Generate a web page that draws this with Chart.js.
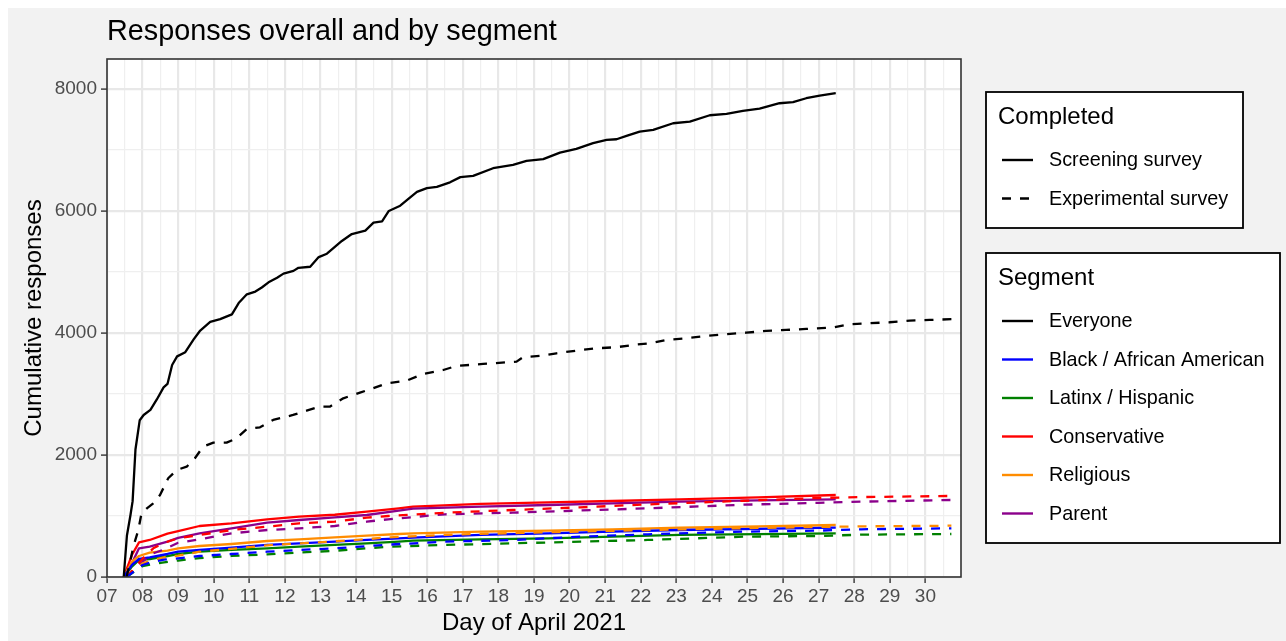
<!DOCTYPE html>
<html>
<head>
<meta charset="utf-8">
<script src="https://cdn.jsdelivr.net/npm/chart.js@4"></script>
<style>
  html, body { margin: 0; padding: 0; background: #fff; }
  canvas { display: block; }
</style>
</head>
<body>
<canvas id="responsesChart" width="1286" height="641"></canvas>
<script>
// axis ticks
const dayTicks = [7, 8, 9, 10, 11, 12, 13, 14, 15, 16, 17, 18, 19, 20, 21, 22, 23, 24, 25, 26, 27, 28, 29, 30];
const countTicks = [0, 2000, 4000, 6000, 8000];

// everyone, screening survey (solid)
const everyoneScreenDays = [7.47, 7.56, 7.66, 7.72, 7.80, 7.92, 8.03, 8.22, 8.40, 8.59, 8.70, 8.83, 8.97, 9.20, 9.44, 9.62, 9.90,
  10.18, 10.51, 10.70, 10.93, 11.17, 11.35, 11.54, 11.78, 11.96, 12.24, 12.38, 12.71, 12.95, 13.18, 13.37, 13.60, 13.88,
  14.07, 14.26, 14.49, 14.73, 14.92, 15.24, 15.47, 15.71, 15.99, 16.27, 16.64, 16.93, 17.29, 17.85, 18.41, 18.79, 19.26,
  19.73, 20.19, 20.66, 21.04, 21.32, 21.60, 21.97, 22.35, 22.91, 23.38, 23.94, 24.41, 24.87, 25.34, 25.90, 26.28, 26.65,
  27.03, 27.48];
const everyoneScreen = [0, 680, 1017, 1243, 2090, 2570, 2655, 2740, 2910, 3107, 3164, 3475, 3616, 3684, 3898, 4040, 4180,
  4226, 4305, 4490, 4633, 4678, 4745, 4830, 4904, 4972, 5017, 5068, 5085, 5243, 5299, 5395, 5508, 5621,
  5650, 5678, 5808, 5830, 6000, 6085, 6198, 6311, 6373, 6395, 6469, 6554, 6574, 6700, 6754, 6820, 6848,
  6956, 7016, 7110, 7164, 7175, 7230, 7300, 7328, 7437, 7464, 7568, 7590, 7639, 7677, 7765, 7782, 7847,
  7890, 7929];

// everyone, experimental survey (dashed)
const everyoneExpDays = [7.55, 7.65, 7.74, 7.88, 7.97, 8.12, 8.30, 8.49, 8.72, 8.96, 9.24, 9.47, 9.70, 9.99, 10.36, 10.64,
  10.92, 11.30, 11.67, 12.23, 12.61, 12.98, 13.26, 13.64, 14.11, 14.48, 14.86, 15.42, 15.89, 16.45, 16.82, 17.57, 18.51,
  18.69, 19.16, 19.63, 20.19, 20.76, 21.32, 21.78, 22.25, 22.72, 23.28, 23.84, 24.41, 24.97, 25.53, 26.09, 26.65, 27.40,
  27.87, 28.43, 28.99, 29.56, 30.12, 30.73];
const everyoneExp = [0, 250, 497, 770, 1044, 1126, 1208, 1344, 1618, 1754, 1808, 1946, 2136, 2202, 2202, 2273,
  2421, 2454, 2574, 2656, 2727, 2792, 2792, 2929, 3022, 3093, 3175, 3218, 3328, 3393, 3459, 3492, 3530,
  3601, 3623, 3667, 3710, 3749, 3766, 3803, 3831, 3885, 3913, 3951, 3979, 4005, 4033, 4049, 4066, 4087,
  4142, 4159, 4175, 4202, 4213, 4225];

// segments: shared day grids
const segScreenDays = [7.47, 7.7, 7.9, 8.2, 8.7, 9.0, 9.6, 10.5, 11.5, 12.4, 13.4, 14.3, 15.2, 15.6, 17.5, 19.4, 21.2, 23.1, 25.3, 27.48];
const segExpDays = [7.55, 8.0, 8.3, 8.6, 9.0, 9.6, 10.5, 11.5, 12.4, 13.4, 14.3, 14.9, 16.5, 18.4, 20.3, 22.2, 24.9, 27.0, 28.2, 30.73];

const blackScreen = [0, 197, 295, 322, 377, 415, 443, 481, 525, 552, 579, 607, 634, 645, 689, 716, 743, 770, 790, 808];
const blackExp = [0, 197, 250, 285, 306, 344, 377, 415, 443, 470, 505, 530, 579, 607, 661, 700, 743, 760, 782, 798];
const latinxScreen = [0, 170, 279, 295, 344, 377, 415, 443, 470, 497, 525, 552, 579, 595, 618, 634, 661, 689, 703, 716];
const latinxExp = [0, 180, 210, 240, 270, 310, 345, 370, 400, 430, 470, 497, 525, 552, 579, 607, 661, 672, 694, 705];
const conservScreen = [0, 360, 568, 607, 710, 750, 836, 880, 946, 988, 1020, 1071, 1126, 1153, 1197, 1224, 1246, 1273, 1305, 1344];
const conservExp = [0, 300, 470, 560, 634, 689, 770, 825, 880, 907, 973, 1000, 1054, 1098, 1142, 1190, 1250, 1295, 1310, 1328];
const religScreen = [0, 251, 344, 399, 432, 470, 508, 541, 590, 618, 650, 677, 705, 716, 743, 760, 782, 808, 830, 852];
const religExp = [0, 224, 280, 320, 350, 415, 460, 520, 550, 585, 620, 650, 690, 720, 745, 770, 800, 820, 830, 841];
const parentScreen = [0, 224, 470, 497, 579, 640, 716, 798, 890, 934, 978, 1016, 1087, 1120, 1153, 1180, 1208, 1235, 1255, 1273];
const parentExp = [0, 250, 388, 450, 560, 618, 716, 770, 798, 836, 907, 946, 1028, 1054, 1090, 1126, 1185, 1215, 1235, 1262];

const segmentNames = ['Everyone', 'Black / African American', 'Latinx / Hispanic', 'Conservative', 'Religious', 'Parent'];
const segmentColors = ['#000000', '#0000ff', '#008000', '#ff0000', '#ff8c00', '#8b008b'];
const completedNames = ['Screening survey', 'Experimental survey'];

const FONT = '"Liberation Sans", Arial, sans-serif';
const DASH = [9, 9];

function series(label, days, values, color, dashed) {
  return {
    label: label,
    data: days.map((d, i) => ({ x: d, y: values[i] })),
    borderColor: color,
    borderWidth: 2.3,
    borderDash: dashed ? DASH : [],
    borderJoinStyle: 'round',
    pointRadius: 0,
    fill: false,
    tension: 0
  };
}

const datasets = [
  series('Everyone screening', everyoneScreenDays, everyoneScreen, segmentColors[0], false),
  series('Everyone experimental', everyoneExpDays, everyoneExp, segmentColors[0], true),
  series('Black experimental', segExpDays, blackExp, segmentColors[1], true),
  series('Latinx experimental', segExpDays, latinxExp, segmentColors[2], true),
  series('Conservative experimental', segExpDays, conservExp, segmentColors[3], true),
  series('Religious experimental', segExpDays, religExp, segmentColors[4], true),
  series('Parent experimental', segExpDays, parentExp, segmentColors[5], true),
  series('Black screening', segScreenDays, blackScreen, segmentColors[1], false),
  series('Latinx screening', segScreenDays, latinxScreen, segmentColors[2], false),
  series('Religious screening', segScreenDays, religScreen, segmentColors[4], false),
  series('Parent screening', segScreenDays, parentScreen, segmentColors[5], false),
  series('Conservative screening', segScreenDays, conservScreen, segmentColors[3], false)
];

function legendBox(ctx, x, y, w, h, title, rows) {
  ctx.fillStyle = '#ffffff';
  ctx.fillRect(x, y, w, h);
  ctx.strokeStyle = '#000000';
  ctx.lineWidth = 1.8;
  ctx.strokeRect(x, y, w, h);
  ctx.fillStyle = '#000000';
  ctx.textBaseline = 'middle';
  ctx.textAlign = 'left';
  ctx.font = '24px ' + FONT;
  ctx.fillText(title, x + 12, y + 25);
  ctx.font = '19.8px ' + FONT;
  rows.forEach((r, i) => {
    const cy = y + 68 + i * 38.5;
    ctx.strokeStyle = r.color;
    ctx.lineWidth = 2.4;
    ctx.setLineDash(r.dashed ? DASH : []);
    ctx.beginPath();
    ctx.moveTo(x + 16, cy);
    ctx.lineTo(x + 47, cy);
    ctx.stroke();
    ctx.setLineDash([]);
    ctx.fillStyle = '#000000';
    ctx.fillText(r.label, x + 63, cy + 1);
  });
}

const decor = {
  id: 'decor',
  beforeDraw(chart) {
    const { ctx, chartArea: a } = chart;
    ctx.save();
    ctx.fillStyle = '#ffffff';
    ctx.fillRect(0, 0, chart.width, chart.height);
    ctx.fillStyle = '#f2f2f2';
    ctx.fillRect(8, 8, chart.width - 8, chart.height - 8);
    ctx.fillStyle = '#ffffff';
    ctx.fillRect(a.left, a.top, a.right - a.left, a.bottom - a.top);
    ctx.restore();
  },
  afterDraw(chart) {
    const { ctx, chartArea: a } = chart;
    ctx.save();
    // panel border
    ctx.strokeStyle = '#333333';
    ctx.lineWidth = 1.6;
    ctx.strokeRect(a.left, a.top, a.right - a.left, a.bottom - a.top);

    // title and axis titles
    ctx.fillStyle = '#000000';
    ctx.textAlign = 'left';
    ctx.textBaseline = 'alphabetic';
    ctx.font = '28.8px ' + FONT;
    ctx.fillText('Responses overall and by segment', a.left, 40);

    ctx.textAlign = 'center';
    ctx.font = '24px ' + FONT;
    ctx.fillText('Day of April 2021', (a.left + a.right) / 2, 630);

    ctx.translate(41, (a.top + a.bottom) / 2);
    ctx.rotate(-Math.PI / 2);
    ctx.fillText('Cumulative responses', 0, 0);
    ctx.setTransform(1, 0, 0, 1, 0, 0);

    // legends
    legendBox(ctx, 986, 92, 257, 136, 'Completed',
      completedNames.map((n, i) => ({ label: n, color: '#000000', dashed: i === 1 })));
    legendBox(ctx, 986, 253, 294, 290, 'Segment',
      segmentNames.map((n, i) => ({ label: n, color: segmentColors[i], dashed: false })));
    ctx.restore();
  }
};

const isMajor = v => Math.abs(v - Math.round(v)) < 1e-6;

new Chart(document.getElementById('responsesChart'), {
  type: 'line',
  data: { datasets: datasets },
  options: {
    responsive: false,
    animation: false,
    devicePixelRatio: 1,
    layout: { padding: { left: 0, top: 59, right: 325, bottom: 0 } },
    plugins: {
      legend: { display: false },
      title: { display: false },
      tooltip: { enabled: false }
    },
    scales: {
      x: {
        type: 'linear',
        min: 7,
        max: 31,
        afterFit: s => { s.height = 64; },
        afterBuildTicks: s => {
          const t = [];
          dayTicks.forEach(d => { t.push({ value: d }); t.push({ value: d + 0.5 }); });
          s.ticks = t;
        },
        border: { display: false },
        grid: {
          color: c => isMajor(c.tick.value) ? '#e8e8e8' : '#efefef',
          lineWidth: c => isMajor(c.tick.value) ? 2.2 : 1.2,
          tickColor: c => isMajor(c.tick.value) ? '#333333' : 'rgba(0,0,0,0)',
          tickLength: 6,
          tickWidth: 1.4
        },
        ticks: {
          autoSkip: false,
          maxRotation: 0,
          padding: 2,
          color: '#4d4d4d',
          font: { family: FONT, size: 19 },
          callback: v => isMajor(v) ? String(v).padStart(2, '0') : ''
        }
      },
      y: {
        type: 'linear',
        min: 0,
        max: 8490,
        afterFit: s => { s.width = 107; },
        afterBuildTicks: s => {
          const t = [];
          countTicks.forEach(v => { t.push({ value: v }); if (v < 8000) t.push({ value: v + 1000 }); });
          s.ticks = t;
        },
        border: { display: false },
        grid: {
          color: c => countTicks.includes(c.tick.value) ? '#e8e8e8' : '#efefef',
          lineWidth: c => countTicks.includes(c.tick.value) ? 2.2 : 1.2,
          tickColor: c => countTicks.includes(c.tick.value) ? '#333333' : 'rgba(0,0,0,0)',
          tickLength: 6,
          tickWidth: 1.4
        },
        ticks: {
          autoSkip: false,
          padding: 4,
          color: '#4d4d4d',
          font: { family: FONT, size: 19 },
          callback: v => countTicks.includes(v) ? String(v) : ''
        }
      }
    }
  },
  plugins: [decor]
});
</script>
</body>
</html>
